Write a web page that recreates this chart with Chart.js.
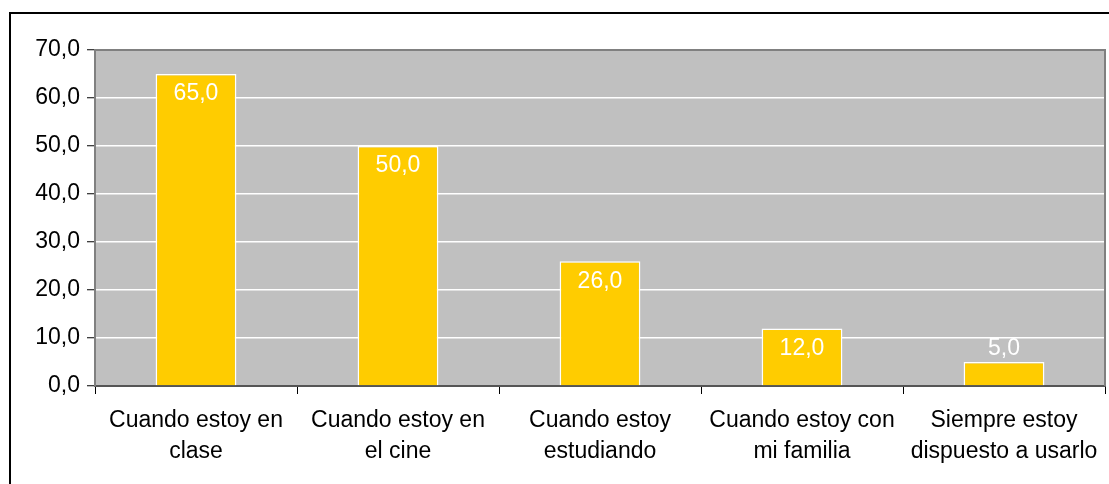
<!DOCTYPE html>
<html>
<head>
<meta charset="utf-8">
<script src="https://cdn.jsdelivr.net/npm/chart.js@4/dist/chart.umd.min.js"></script>
<style>
  html, body { margin: 0; padding: 0; background: #fff; }
  #wrap { width: 1109px; height: 484px; position: relative; }
</style>
</head>
<body>
<div id="wrap"><canvas id="barras"></canvas></div>
<script>
const categorias = [
    ['Cuando estoy en', 'clase'],
    ['Cuando estoy en', 'el cine'],
    ['Cuando estoy', 'estudiando'],
    ['Cuando estoy con', 'mi familia'],
    ['Siempre estoy', 'dispuesto a usarlo']
]
const porcentajes = [65, 50, 26, 12, 5]
const yTicks = [0, 10, 20, 30, 40, 50, 60, 70]

const fmt = v => v.toFixed(1).replace('.', ',')
const fuente = 'Liberation Sans, Arial, sans-serif'

// fondo gris del área del gráfico y marco exterior
const marco = {
    id: 'marco',
    beforeDraw(chart) {
        const { ctx, chartArea: a } = chart
        ctx.save()
        ctx.fillStyle = '#c0c0c0'
        ctx.fillRect(a.left, a.top, a.right - a.left, a.bottom - a.top)
        ctx.strokeStyle = '#000'
        ctx.lineWidth = 2
        ctx.beginPath()
        ctx.moveTo(10, 484)
        ctx.lineTo(10, 13)
        ctx.lineTo(1109, 13)
        ctx.stroke()
        ctx.restore()
    },
    beforeDatasetsDraw(chart) {
        const { ctx, chartArea: a } = chart
        ctx.save()
        ctx.strokeStyle = '#808080'
        ctx.lineWidth = 2
        ctx.beginPath()
        ctx.moveTo(a.left, a.bottom)
        ctx.lineTo(a.left, a.top)
        ctx.lineTo(a.right, a.top)
        ctx.lineTo(a.right, a.bottom)
        ctx.stroke()
        ctx.restore()
    }
}

// valores sobre las barras
const etiquetas = {
    id: 'etiquetas',
    afterDatasetsDraw(chart) {
        const { ctx } = chart
        const meta = chart.getDatasetMeta(0)
        ctx.save()
        ctx.fillStyle = '#fff'
        ctx.font = '23px ' + fuente
        ctx.textAlign = 'center'
        ctx.textBaseline = 'middle'
        meta.data.forEach((bar, i) => {
            const h = bar.base - bar.y
            const y = h > 40 ? bar.y + 20 : bar.y - 13
            ctx.fillText(fmt(porcentajes[i]), bar.x, y)
        })
        ctx.restore()
    }
}

new Chart(document.getElementById('barras'), {
    type: 'bar',
    data: {
        labels: categorias,
        datasets: [{
            data: porcentajes,
            backgroundColor: '#ffcc00',
            borderColor: '#fff',
            borderWidth: 1.5,
            borderSkipped: 'bottom',
            barPercentage: 0.4,
            categoryPercentage: 1
        }]
    },
    options: {
        responsive: true,
        maintainAspectRatio: false,
        animation: false,
        layout: { padding: { left: 0, top: 50, right: 4, bottom: 0 } },
        plugins: {
            legend: { display: false },
            tooltip: { enabled: false },
            title: { display: false }
        },
        scales: {
            x: {
                afterFit: s => { s.height = 98 },
                grid: {
                    offset: true,
                    drawOnChartArea: false,
                    tickLength: 8,
                    tickColor: '#000'
                },
                border: { color: '#555', width: 2 },
                ticks: {
                    color: '#000',
                    padding: 11,
                    maxRotation: 0,
                    autoSkip: false,
                    font: { family: fuente, size: 23, lineHeight: 1.35 }
                }
            },
            y: {
                min: 0,
                max: 70,
                afterFit: s => { s.width = 95 },
                afterBuildTicks: s => { s.ticks = yTicks.map(v => ({ value: v })) },
                grid: {
                    color: '#fff',
                    lineWidth: 1.5,
                    tickLength: 8,
                    tickColor: '#000',
                    tickWidth: 1
                },
                border: { color: '#808080', width: 2 },
                ticks: {
                    color: '#000',
                    padding: 7,
                    callback: v => fmt(v),
                    font: { family: fuente, size: 23 }
                }
            }
        }
    },
    plugins: [marco, etiquetas]
})
</script>
</body>
</html>
